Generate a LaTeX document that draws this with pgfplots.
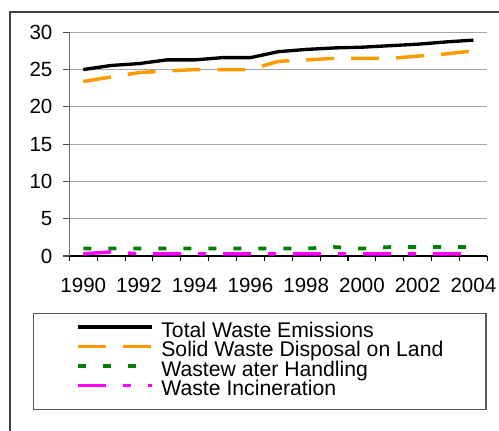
\documentclass[border=0pt]{standalone}
\usepackage{pgfplots}
\pgfplotsset{compat=1.18}
\usepackage{fontspec}
\setmainfont{Liberation Sans}
\definecolor{cOrange}{HTML}{FF9900}
\definecolor{cGreen}{HTML}{008000}
\definecolor{cMag}{HTML}{FF00FF}
\begin{document}
\fontsize{15pt}{18pt}\selectfont
\begin{tikzpicture}
\path[use as bounding box] (0,0) rectangle (374.25pt,-322.5pt);
\clip (0,0) rectangle (374.25pt,-322.5pt);
\draw[line width=1.1pt, color=black!75] (7.5pt,-340pt) -- (7.5pt,-9pt) -- (390pt,-9pt);
\draw[line width=0.9pt, color=black!65] (25pt,-235pt) rectangle (364.5pt,-307pt);
\begin{axis}[
  at={(52pt,-192pt)}, anchor=south west,
  scale only axis, width=313.5pt, height=167.8pt,
  xmin=-0.5, xmax=14.5, ymin=0, ymax=30,
  axis x line=bottom, axis y line=left,
  x axis line style={-, black, line width=0.9pt},
  y axis line style={-, black!55, line width=0.8pt},
  ytick={0,5,...,30},
  xtick={0,2,4,6,8,10,12,14},
  xticklabels={1990,1992,1994,1996,1998,2000,2002,2004},
  minor xtick={-0.5,0.5,...,14.5},
  major x tick style={draw=none},
  minor x tick style={black, line width=0.8pt},
  y tick style={black!70, line width=0.8pt},
  tick align=outside,
  major tick length=4.5pt, minor tick length=4pt,
  ymajorgrids, major grid style={black!35, line width=0.8pt},
  /pgf/number format/assume math mode=true,
  ticklabel style={font=\fontsize{15.4pt}{18pt}\selectfont},
  xticklabel style={yshift=-7pt},
  yticklabel style={xshift=-3pt},
  legend cell align=left,
  legend style={at={(0.016,-0.297)}, anchor=north west, draw=none, fill=none,
    inner sep=0pt, column sep=5.5pt, row sep=0pt,
    font=\fontsize{15.9pt}{18pt}\selectfont,
    nodes={inner sep=0pt, text height=10.8pt, text depth=3.8pt}},
  legend image code/.code={\draw[#1] (0pt,4.2pt) -- (55.5pt,4.2pt);},
]
\addplot[black, line width=2.5pt] coordinates {
(0,25.0) (1,25.55) (2,25.8) (3,26.3) (4,26.3) (5,26.6) (6,26.6) (7,27.4)
(8,27.7) (9,27.9) (10,28.0) (11,28.2) (12,28.4) (13,28.7) (14,28.95)};
\addlegendentry{Total Waste Emissions}
\addplot[cOrange, line width=2.6pt, dash pattern=on 21pt off 12.75pt] coordinates {
(0,23.4) (1,24.0) (2,24.6) (3,24.8) (4,25.0) (5,25.0) (6,25.0) (7,26.1)
(8,26.3) (9,26.5) (10,26.5) (11,26.5) (12,26.8) (13,27.1) (14,27.5)};
\addlegendentry{Solid Waste Disposal on Land}
\addplot[cGreen, line width=2.8pt, dash pattern=on 6pt off 12.75pt] coordinates {
(0,1.0) (1,1.0) (2,1.0) (3,1.0) (4,1.0) (5,1.0) (6,1.0) (7,1.0)
(8,1.0) (9,1.2) (10,1.0) (11,1.2) (12,1.2) (13,1.2) (14,1.2)};
\addlegendentry{Wastew ater Handling}
\addplot[cMag, line width=2.6pt, dash pattern=on 21pt off 12.75pt on 6pt off 12.75pt] coordinates {
(0,0.3) (1,0.55) (2,0.3) (3,0.3) (4,0.3) (5,0.3) (6,0.3) (7,0.3)
(8,0.3) (9,0.3) (10,0.3) (11,0.3) (12,0.3) (13,0.3) (14,0.3)};
\addlegendentry{Waste Incineration}
\end{axis}
\end{tikzpicture}
\end{document}
